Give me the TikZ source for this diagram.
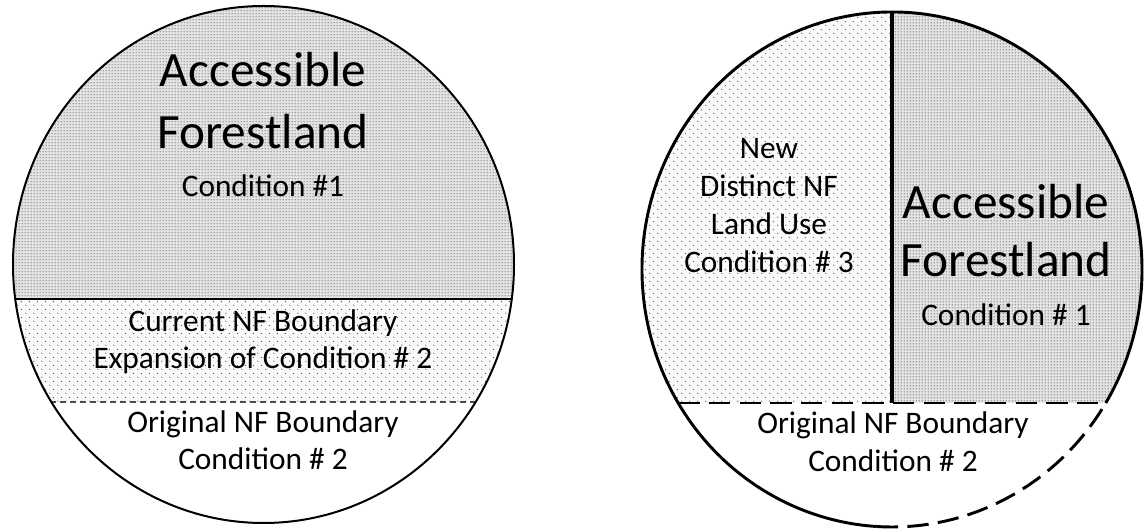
\documentclass[tikz,border=0pt]{standalone}
\usepackage{fontspec}
\setmainfont{Carlito}
\usetikzlibrary{patterns.meta}

% fine, close dot screen for forestland
\tikzdeclarepattern{
  name=densedots,
  type=uncolored,
  bounding box={(0pt,0pt) and (2.25pt,2.25pt)},
  tile size={(2.25pt,2.25pt)},
  code={\fill (1.125pt,1.125pt) circle [radius=0.5pt];}
}
% open, staggered dot screen for non-forest zones
\tikzdeclarepattern{
  name=sparsedots,
  type=uncolored,
  bounding box={(0pt,0pt) and (6pt,6pt)},
  tile size={(6pt,6pt)},
  code={\fill (1.5pt,1.5pt) circle [radius=0.45pt];
        \fill (4.5pt,4.5pt) circle [radius=0.45pt];}
}

\tikzset{
  densezone/.style={fill=gray!22, postaction={pattern=densedots, pattern color=black!80}},
  sparsezone/.style={fill=gray!4, postaction={pattern=sparsedots, pattern color=black!85}},
  bigtxt/.style={anchor=base, inner sep=0pt, font=\fontsize{37pt}{44pt}\selectfont},
  smalltxt/.style={anchor=base, inner sep=0pt, font=\fontsize{23.5pt}{28pt}\selectfont},
  thinrim/.style={line width=1.5pt},
  thickrim/.style={line width=2.2pt},
  longdash/.style={line width=2.2pt, dash pattern=on 16pt off 7pt},
}

\begin{document}
\begin{tikzpicture}[x=0.75pt, y=0.75pt]
\useasboundingbox (0,0) rectangle (1147,531);

% ---------- left disc ----------
\coordinate (Lc) at (263.5,266.5);
\begin{scope}
  \clip (Lc) ellipse [x radius=250.5, y radius=258.5];
  \fill[densezone] (0,232) rectangle (540,531);
  \fill[sparsezone] (0,129) rectangle (540,232);
  \draw[line width=1.1pt] (0,232) -- (540,232);
  \draw[line width=0.9pt, black!70, dash pattern=on 4.5pt off 3pt] (0,129) -- (540,129);
\end{scope}
\draw[thinrim] (Lc) ellipse [x radius=250.5, y radius=258.5];

\node[bigtxt] (la1) at (263,444) {Accessible};
\node[bigtxt] (la2) at (263,382) {Forestland};
\node[smalltxt] (la3) at (263,334) {Condition \#1};
\node[smalltxt] (lb1) at (263,199) {Current NF Boundary};
\node[smalltxt] (lb2) at (263,162) {Expansion of Condition \# 2};
\node[smalltxt] (lc1) at (263,98) {Original NF Boundary};
\node[smalltxt] (lc2) at (263,61) {Condition \# 2};

% ---------- right disc ----------
\coordinate (Rc) at (892,261.5);
\begin{scope}
  \clip (Rc) ellipse [x radius=250, y radius=257.5];
  \fill[sparsezone] (630,128) rectangle (892,531);
  \fill[densezone] (892,128) rectangle (1147,531);
\end{scope}
% outline: solid round the top, dashed along the lower right
\draw[thickrim] (Rc) ++(-31.23:250 and 257.5)
  arc[start angle=-31.23, end angle=266.5, x radius=250, y radius=257.5];
\draw[longdash] (Rc) ++(266.5:250 and 257.5)
  arc[start angle=266.5, end angle=328.77, x radius=250, y radius=257.5];
\coordinate (Rtop) at (892,519);
\coordinate (Rmid) at (892,128);
\coordinate (Rleft) at (678.2,128);
\coordinate (Rright) at (1105.8,128);
\draw[line width=3pt] (Rtop) -- (Rmid);
\draw[longdash] (Rleft) -- (Rright);

\node[smalltxt] (rn1) at (769,372) {New};
\node[smalltxt] (rn2) at (769,334) {Distinct NF};
\node[smalltxt] (rn3) at (769,296) {Land Use};
\node[smalltxt] (rn4) at (769,258) {Condition \# 3};
\node[bigtxt] (ra1) at (1006,312) {Accessible};
\node[bigtxt] (ra2) at (1006,254) {Forestland};
\node[smalltxt] (ra3) at (1006,205) {Condition \# 1};
\node[smalltxt] (ro1) at (893,97) {Original NF Boundary};
\node[smalltxt] (ro2) at (893,59) {Condition \# 2};
\end{tikzpicture}
\end{document}
